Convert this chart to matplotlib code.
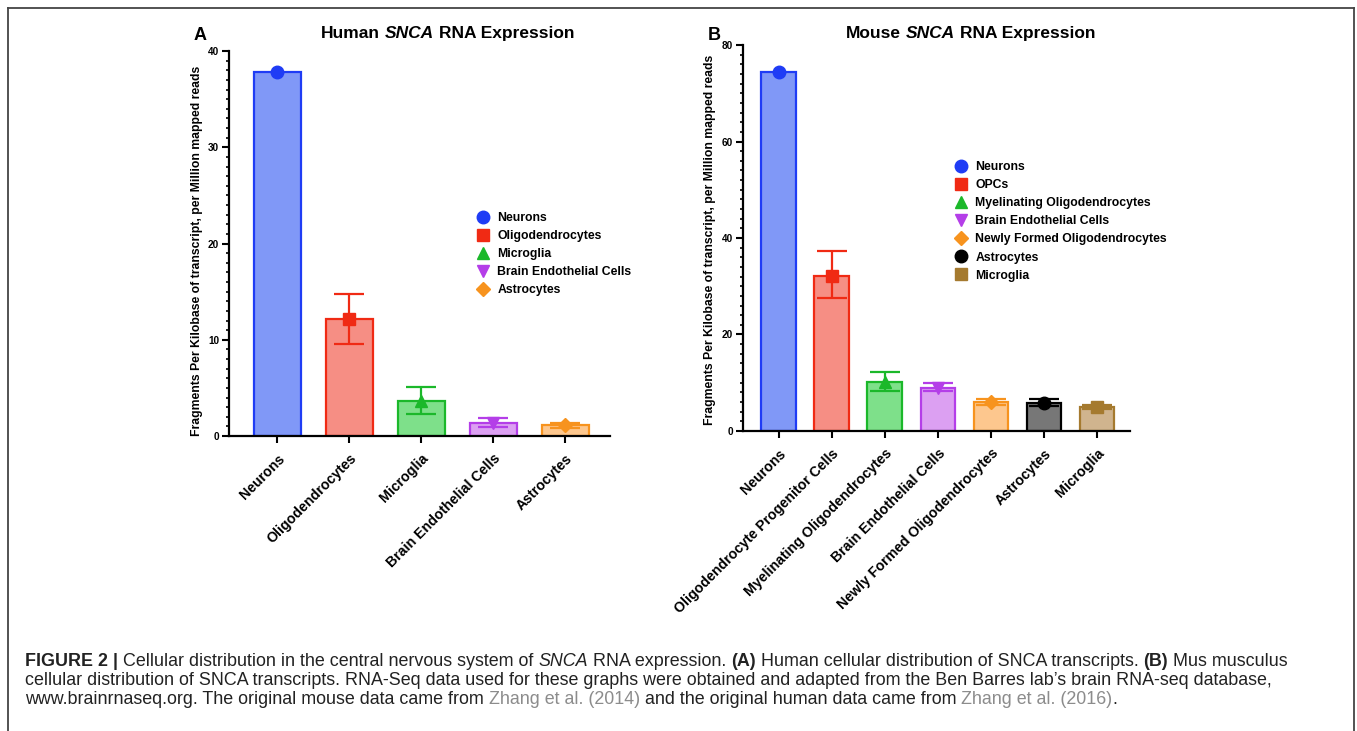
import numpy as np
import matplotlib
matplotlib.use("Agg")
import matplotlib.pyplot as plt
from matplotlib.lines import Line2D

plt.rcParams['font.family'] = ['Liberation Sans', 'DejaVu Sans']

# ---- data: human (panel A)
human_cells = ['Neurons', 'Oligodendrocytes', 'Microglia', 'Brain Endothelial Cells', 'Astrocytes']
human_mean = [37.8, 12.2, 3.65, 1.35, 1.1]
human_err_hi = [37.8, 14.8, 5.1, 1.9, 1.4]
human_err_lo = [37.8, 9.6, 2.25, 0.95, 0.85]
human_legend = ['Neurons', 'Oligodendrocytes', 'Microglia', 'Brain Endothelial Cells', 'Astrocytes']

# ---- data: mouse (panel B)
mouse_cells = ['Neurons', 'Oligodendrocyte Progenitor Cells', 'Myelinating Oligodendrocytes',
               'Brain Endothelial Cells', 'Newly Formed Oligodendrocytes', 'Astrocytes', 'Microglia']
mouse_mean = [74.5, 32.2, 10.2, 8.9, 5.95, 5.8, 4.9]
mouse_err_hi = [74.5, 37.3, 12.2, 9.9, 6.7, 6.7, 5.4]
mouse_err_lo = [74.5, 27.5, 8.2, 8.2, 5.3, 5.1, 4.5]
mouse_legend = ['Neurons', 'OPCs', 'Myelinating Oligodendrocytes', 'Brain Endothelial Cells',
                'Newly Formed Oligodendrocytes', 'Astrocytes', 'Microglia']

# styles
human_fill = ['#8098f7', '#f68e84', '#7ee08a', '#dca0f2', '#fdc78e']
human_edge = ['#1f3cf5', '#f02a14', '#1bb82a', '#b43ee8', '#f7931e']
human_mark = ['o', 's', '^', 'v', 'D']
mouse_fill = ['#8098f7', '#f68e84', '#7ee08a', '#dca0f2', '#fdc78e', '#777777', '#d0b48e']
mouse_edge = ['#1f3cf5', '#f02a14', '#1bb82a', '#b43ee8', '#f7931e', '#000000', '#a57a2f']
mouse_mark = ['o', 's', '^', 'v', 'D', 'o', 's']

W, H = 1357, 731
fig = plt.figure(figsize=(W / 100, H / 100), dpi=100)

def fx(px):
    return px / W

def fy(py):
    return 1 - py / H

ylabel = 'Fragments Per Kilobase of transcript, per Million mapped reads'


def panel(rect, cells, mean, hi, lo, fills, edges, marks, ymax, major, minor, labx, laby):
    ax = fig.add_axes(rect)
    x = np.arange(len(cells))
    ax.bar(x, mean, width=0.65, color=fills, edgecolor=edges, linewidth=1.6, zorder=2)
    for i in range(len(cells)):
        if hi[i] != lo[i]:
            ax.errorbar(x[i], mean[i], yerr=[[mean[i] - lo[i]], [hi[i] - mean[i]]],
                        fmt='none', ecolor=edges[i], elinewidth=1.6, capsize=11,
                        capthick=1.6, zorder=3)
        ax.plot(x[i], mean[i], marker=marks[i], color=edges[i],
                markersize=9 if marks[i] != 'D' else 7, zorder=4, clip_on=False)
    ax.set_xlim(-0.67, len(cells) - 1 + 0.62)
    ax.set_ylim(0, ymax)
    ax.set_yticks(np.arange(0, ymax + 1, major))
    ax.set_yticks(np.arange(0, ymax + 1, minor), minor=True)
    ax.set_xticks(x)
    ax.set_xticklabels(cells, rotation=45, ha='right', va='top', rotation_mode='anchor',
                       fontsize=10.2, fontweight='bold')
    for lbl in ax.get_yticklabels():
        lbl.set_fontweight('bold')
    ax.tick_params(axis='y', labelsize=7.2, width=1.5, length=5, pad=2)
    ax.tick_params(axis='y', which='minor', width=1.2, length=2.5)
    ax.tick_params(axis='x', width=1.5, length=5, pad=6)
    for s in ['top', 'right']:
        ax.spines[s].set_visible(False)
    for s in ['left', 'bottom']:
        ax.spines[s].set_linewidth(1.6)
    ax.set_ylabel(ylabel, fontsize=8.8, fontweight='bold')
    ax.yaxis.set_label_coords(labx, laby)
    return ax


axA = panel([fx(229), fy(436), fx(610 - 229), fy(51) - fy(436)], human_cells, human_mean,
            human_err_hi, human_err_lo, human_fill, human_edge, human_mark, 40, 10, 1,
            -0.068, 0.48)
axB = panel([fx(743), fy(431), fx(1130 - 743), fy(45) - fy(431)], mouse_cells, mouse_mean,
            mouse_err_hi, mouse_err_lo, mouse_fill, mouse_edge, mouse_mark, 80, 20, 2,
            -0.07, 0.495)

# legends
def legend(ax, labels, edges, marks, x, y):
    handles = [Line2D([], [], ls='none', marker=m, color=c, markersize=9 if m != 'D' else 7)
               for m, c in zip(marks, edges)]
    ax.legend(handles, labels, loc='upper left', bbox_to_anchor=(fx(x), fy(y)),
              bbox_transform=fig.transFigure, frameon=False,
              prop={'weight': 'bold', 'size': 8.8}, labelspacing=0.5,
              handletextpad=0.55, handlelength=1.2, borderpad=0, borderaxespad=0)

legend(axA, human_legend, human_edge, human_mark, 476, 212)
legend(axB, mouse_legend, mouse_edge, mouse_mark, 954, 161)

renderer = fig.canvas.get_renderer()


def rich(x, y, parts, size, ha='left', color='#222222'):
    """draw pieces of text one after another, x,y in pixels"""
    sp = fig.text(0, 0, 'a a', fontsize=size)
    sp2 = fig.text(0, 0, 'aa', fontsize=size)
    space = sp.get_window_extent(renderer).width - sp2.get_window_extent(renderer).width
    sp.remove()
    sp2.remove()
    items = []
    for p in parts:
        s, kw = p
        if s == ' ':
            items.append((None, space))
            continue
        t = fig.text(0, fy(y), s, fontsize=size, va='baseline', color=kw.pop('color', color), **kw)
        items.append((t, t.get_window_extent(renderer).width))
    total = sum(w for _, w in items)
    cur = x - total / 2 if ha == 'center' else x
    for t, w in items:
        if t is not None:
            t.set_x(fx(cur))
        cur += w


N = {}
B = {'fontweight': 'bold'}
I = {'fontstyle': 'italic'}
BI = {'fontweight': 'bold', 'fontstyle': 'italic'}

rich(448, 38, [('Human', dict(B)), (' ', {}), ('SNCA', dict(BI)), (' ', {}),
               ('RNA Expression', dict(B))], 12.5, ha='center', color='black')
rich(971, 38, [('Mouse', dict(B)), (' ', {}), ('SNCA', dict(BI)), (' ', {}),
               ('RNA Expression', dict(B))], 12.5, ha='center', color='black')

fig.text(fx(194), fy(40), 'A', fontsize=13, fontweight='bold')
fig.text(fx(708), fy(40), 'B', fontsize=13, fontweight='bold')

# caption
cap = 12.9
link = '#8c8c8c'
rich(25, 666, [('FIGURE 2 |', dict(B)), (' ', {}),
               ('Cellular distribution in the central nervous system of', dict(N)), (' ', {}),
               ('SNCA', dict(I)), (' ', {}), ('RNA expression.', dict(N)), (' ', {}),
               ('(A)', dict(B)), (' ', {}),
               ('Human cellular distribution of SNCA transcripts.', dict(N)), (' ', {}),
               ('(B)', dict(B)), (' ', {}), ('Mus musculus', dict(N))], cap)
rich(25, 685, [('cellular distribution of SNCA transcripts. RNA-Seq data used for these graphs '
                'were obtained and adapted from the Ben Barres lab\u2019s brain RNA-seq database,',
                dict(N))], cap)
rich(25, 704, [('www.brainrnaseq.org. The original mouse data came from', dict(N)), (' ', {}),
               ('Zhang et al. (2014)', dict(color=link)), (' ', {}),
               ('and the original human data came from', dict(N)), (' ', {}),
               ('Zhang et al. (2016)', dict(color=link)), ('.', dict(N))], cap)

# frame around the figure
for xs, ys in [([8, 8], [8, 731]), ([8, 1354], [8, 8]), ([1354, 1354], [8, 731])]:
    fig.add_artist(Line2D([fx(v) for v in xs], [fy(v) for v in ys], color='#444444', lw=1.3))

fig.savefig('out.png', dpi=100)
